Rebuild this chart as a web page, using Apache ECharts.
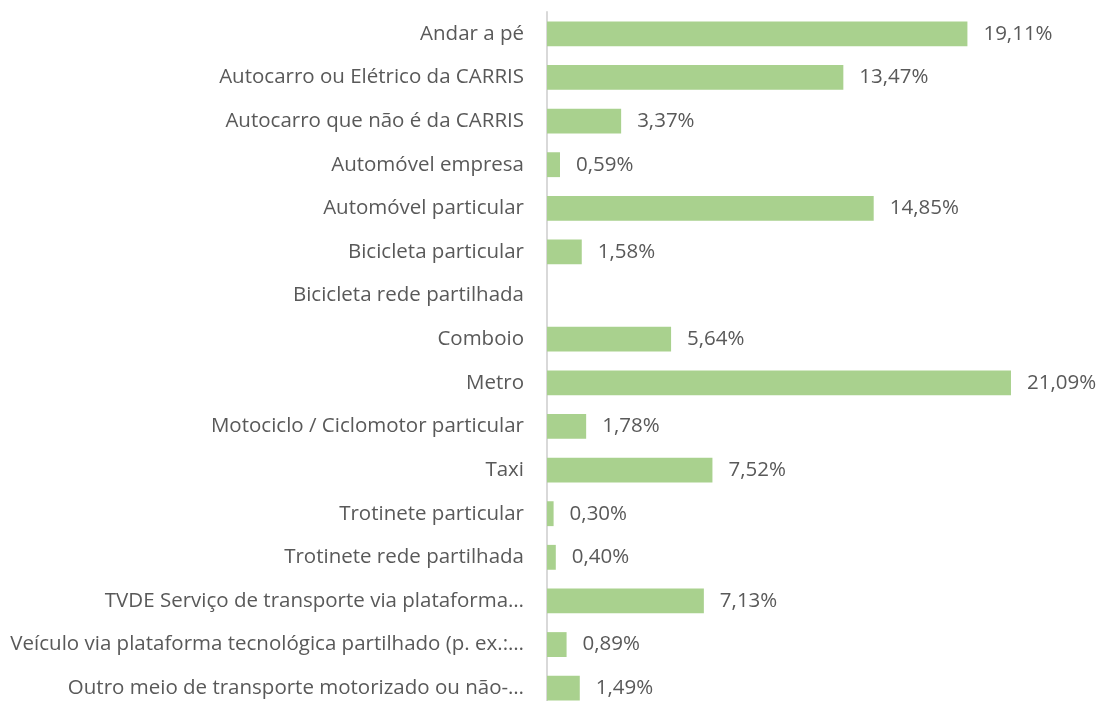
<!DOCTYPE html>
<html><head><meta charset="utf-8">
<script src="https://cdn.jsdelivr.net/npm/echarts@6/dist/echarts.min.js"></script>
<style>html,body{margin:0;padding:0;background:#fff}#c{width:1101px;height:701px}</style>
</head><body><div id="c"></div>
<script>
var categories = [
  "Andar a pé",
  "Autocarro ou Elétrico da CARRIS",
  "Autocarro que não é da CARRIS",
  "Automóvel empresa",
  "Automóvel particular",
  "Bicicleta particular",
  "Bicicleta rede partilhada",
  "Comboio",
  "Metro",
  "Motociclo / Ciclomotor particular",
  "Taxi",
  "Trotinete particular",
  "Trotinete rede partilhada",
  "TVDE Serviço de transporte via plataforma…",
  "Veículo via plataforma tecnológica partilhado (p. ex.:…",
  "Outro meio de transporte motorizado ou não-…"
];
var values = [19.11, 13.47, 3.37, 0.59, 14.85, 1.58, null, 5.64, 21.09, 1.78, 7.52, 0.30, 0.40, 7.13, 0.89, 1.49];

var chart = echarts.init(document.getElementById('c'));
chart.setOption({
  animation: false,
  grid: {left: 547, width: 550, top: 12, height: 698, containLabel: false, outerBoundsMode: 'none'},
  xAxis: {type: 'value', min: 0, max: 25, show: false},
  yAxis: {
    type: 'category', data: categories, inverse: true,
    axisLine: {show: true, lineStyle: {color: '#d9d9d9', width: 2}},
    axisTick: {show: false},
    axisLabel: {color: '#595959', fontSize: 20.5, fontFamily: 'Open Sans', margin: 23}
  },
  series: [{
    type: 'bar', data: values, barCategoryGap: '43%',
    itemStyle: {color: '#a9d18e'},
    label: {
      show: true, position: 'right', distance: 16, color: '#595959', fontSize: 20.5, fontFamily: 'Open Sans',
      formatter: function(p){ return p.value == null ? '' : p.value.toFixed(2).replace('.', ',') + '%'; }
    }
  }]
});
</script></body></html>
